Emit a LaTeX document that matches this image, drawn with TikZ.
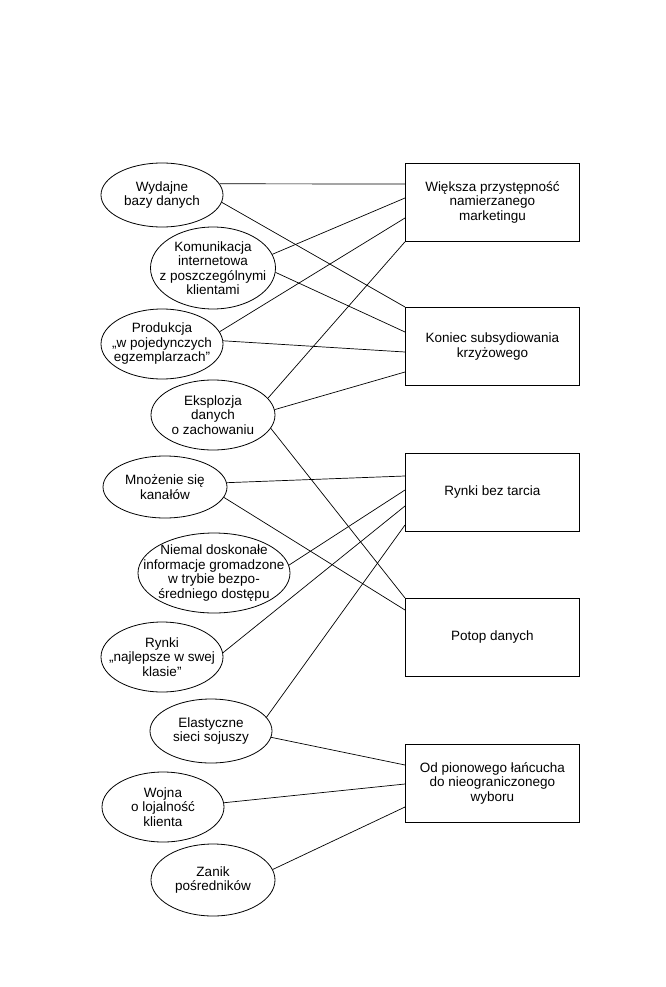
\documentclass[tikz,border=0pt]{standalone}
\usepackage{fontspec}
\setmainfont{Liberation Sans}
\usetikzlibrary{shapes.geometric,calc}
\begin{document}
\begin{tikzpicture}[x=1pt,y=-1pt,
  ell/.style={draw, ellipse, inner sep=0pt, line width=0.8pt},
  lab/.style={align=center, font=\fontsize{13.5}{14.5}\selectfont, inner sep=0pt},
  box/.style={draw, rectangle, minimum width=174pt, minimum height=78pt, anchor=north west,
    align=center, inner sep=0pt, line width=0.8pt, font=\fontsize{13.5}{14.5}\selectfont},
  link/.style={line width=0.7pt}]
\useasboundingbox (0,0) rectangle (665,987);
% ellipses
\node[ell, minimum width=122pt, minimum height=64pt, label={[lab]center:Wydajne\\bazy danych}] (e1) at (162,195) {};
\node[ell, minimum width=125pt, minimum height=82pt, label={[lab]center:Komunikacja\\internetowa\\z poszczególnymi\\klientami}] (e2) at (213,268) {};
\node[ell, minimum width=122pt, minimum height=70pt, label={[lab]center:Produkcja\\„w pojedynczych\\egzemplarzach"}] (e3) at (162,344) {};
\node[ell, minimum width=124pt, minimum height=70pt, label={[lab]center:Eksplozja\\danych\\o zachowaniu}] (e4) at (213,415) {};
\node[ell, minimum width=124pt, minimum height=62pt, label={[lab]center:Mnożenie się\\kanałów}] (e5) at (165,487) {};
\node[ell, minimum width=152pt, minimum height=80pt, label={[lab]center:Niemal doskonałe\\informacje gromadzone\\w trybie bezpo-\\średniego dostępu}] (e6) at (214,573) {};
\node[ell, minimum width=122pt, minimum height=70pt, label={[lab]center:Rynki\\„najlepsze w swej\\klasie"}] (e7) at (162,657) {};
\node[ell, minimum width=122pt, minimum height=64pt, label={[lab]center:Elastyczne\\sieci sojuszy}] (e8) at (211,731) {};
\node[ell, minimum width=122pt, minimum height=70pt, label={[lab]center:Wojna\\o lojalność\\klienta}] (e9) at (163,807) {};
\node[ell, minimum width=124pt, minimum height=72pt, label={[lab]center:Zanik\\pośredników}] (e10) at (213,880) {};
% boxes
\node[box] (b1) at (405,163) {Większa przystępność\\namierzanego\\marketingu};
\node[box] (b2) at (405,307) {Koniec subsydiowania\\krzyżowego};
\node[box] (b3) at (405,453) {Rynki bez tarcia};
\node[box] (b4) at (405,598) {Potop danych};
\node[box] (b5) at (405,744) {Od pionowego łańcucha\\do nieograniczonego\\wyboru};
% links
\draw[link] (e1.11) -- ($(b1.north west)+(0,21)$);
\draw[link] (e1.-7) -- (b2.north west);
\draw[link] (e2.13) -- ($(b1.north west)+(0,35)$);
\draw[link] (e2.-4) -- ($(b2.north west)+(0,25)$);
\draw[link] (e3.12) -- ($(b1.north west)+(0,55)$);
\draw[link] (e3.3) -- ($(b2.north west)+(0,45)$);
\draw[link] (e4.17) -- (b1.south west);
\draw[link] (e4.5) -- ($(b2.north west)+(0,65)$);
\draw[link] (e4.-13) -- (b4.north west);
\draw[link] (e5.4) -- ($(b3.north west)+(0,23)$);
\draw[link] (e5.-10) -- ($(b4.north west)+(0,12)$);
\draw[link] (e6.6) -- ($(b3.north west)+(0,37)$);
\draw[link] (e7.4) -- ($(b3.north west)+(0,53)$);
\draw[link] (e8.14) -- ($(b3.north west)+(0,72)$);
\draw[link] (e8.-6) -- ($(b5.north west)+(0,21)$);
\draw[link] (e9.4) -- ($(b5.north west)+(0,40)$);
\draw[link] (e10.10) -- ($(b5.north west)+(0,63)$);
\end{tikzpicture}
\end{document}
